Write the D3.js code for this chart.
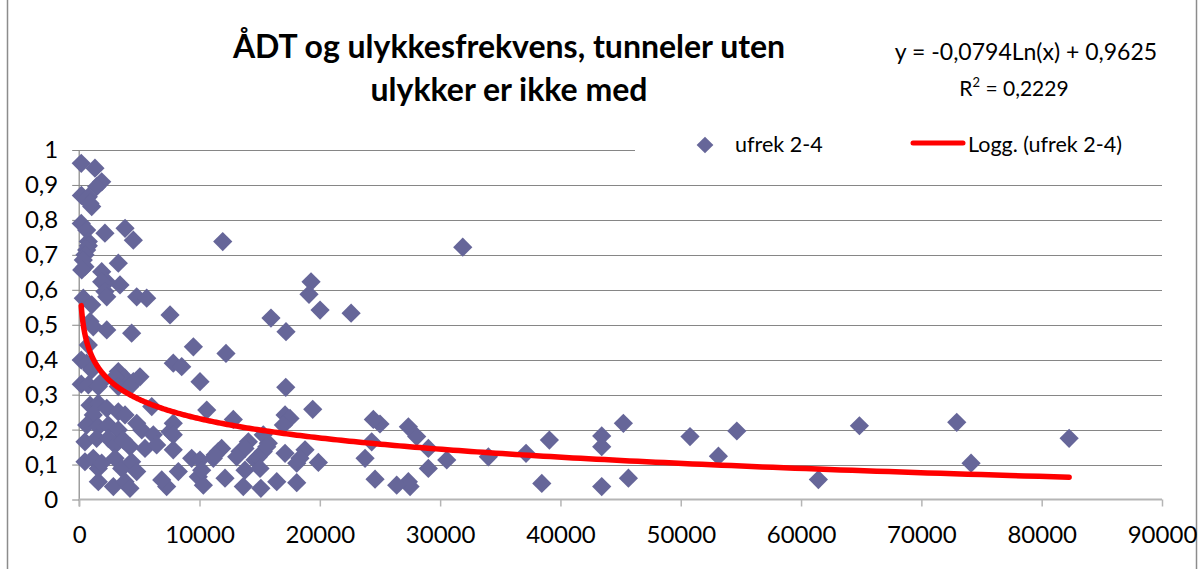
<!DOCTYPE html>
<html><head><meta charset="utf-8">
<script src="https://cdn.jsdelivr.net/npm/d3@7"></script>
<style>body{margin:0;background:#fff}svg{display:block}</style>
</head><body><svg id="c" width="1198" height="569"></svg>
<script>
// ---- data ----
const adt = [82280,74130,72940,64850,61440,54660,53130,50770,45650,45230,43430,43430,43430,39080,38450,37140,34010,31880,30550,29020,29020,28050,27360,27500,27360,26390,25000,24450,24310,23760,24590,22600,
11930,19270,19100,20020,7550,15940,17190,9490,12200,7820,8520,10040,17170,10600,19410,7820,7550,12810,17110,17520,16970,7820,9350,10040,9900,8240,7270,10320,11560,11840,11150,12120,13370,14060,13780,13780,13640,14610,14890,15300,15720,15300,15100,16420,17110,18080,18080,18770,19880,15030,13090,11290,15590,18350,10180,
170,1310,1870,1450,180,760,1040,900,170,620,2140,3810,4500,760,760,620,480,340,480,3250,1870,210,2290,1870,2140,3390,340,1040,2290,4780,5610,
900,1170,2290,4360,760,170,620,1040,3250,3810,2980,5050,4500,170,760,1870,1590,3250,4220,900,1590,2290,1170,3250,3810,6030,620,1590,2420,3250,4780,5200,6160,7820,480,1450,2420,2980,3670,4220,5470,6440,480,1170,1590,1870,2980,3530,4360,4780,1590,2840,3810,4220,6860];
const ufrek = [0.175,0.104,0.221,0.211,0.057,0.196,0.124,0.180,0.061,0.218,0.182,0.151,0.037,0.170,0.046,0.132,0.122,0.722,0.113,0.146,0.089,0.180,0.208,0.037,0.051,0.041,0.216,0.229,0.165,0.118,0.058,0.533,
0.738,0.623,0.587,0.542,0.528,0.519,0.480,0.437,0.418,0.390,0.380,0.337,0.321,0.256,0.258,0.218,0.194,0.229,0.242,0.232,0.213,0.142,0.118,0.113,0.065,0.080,0.037,0.041,0.137,0.146,0.118,0.061,0.137,0.165,0.146,0.084,0.037,0.113,0.122,0.137,0.161,0.185,0.032,0.051,0.132,0.104,0.048,0.142,0.106,0.089,0.122,0.127,0.151,0.118,0.084,
0.962,0.948,0.909,0.895,0.870,0.866,0.838,0.847,0.790,0.771,0.762,0.776,0.742,0.738,0.726,0.714,0.700,0.685,0.666,0.676,0.652,0.657,0.623,0.623,0.595,0.614,0.576,0.557,0.580,0.580,0.576,
0.509,0.494,0.485,0.476,0.442,0.399,0.390,0.371,0.366,0.347,0.351,0.351,0.337,0.330,0.328,0.337,0.323,0.323,0.323,0.270,0.275,0.261,0.242,0.251,0.242,0.266,0.213,0.208,0.213,0.199,0.218,0.199,0.185,0.185,0.165,0.175,0.175,0.156,0.170,0.151,0.146,0.156,0.108,0.118,0.089,0.104,0.118,0.089,0.108,0.080,0.051,0.037,0.051,0.032,0.056];
const xTicks = [0,10000,20000,30000,40000,50000,60000,70000,80000,90000];
const yTicks = [0,0.1,0.2,0.3,0.4,0.5,0.6,0.7,0.8,0.9,1];
const trendA = -0.0794, trendB = 0.9625;   // y = a*ln(x) + b
const rSquared = 0.2229;
const titleLines = ["ÅDT og ulykkesfrekvens, tunneler uten", "ulykker er ikke med"];
const seriesName = "ufrek 2-4";
const trendName = "Logg. (ufrek 2-4)";

// ---- chart ----
const svg = d3.select("#c");
const FONT = "Lato, 'Open Sans', sans-serif";
const x = d3.scaleLinear().domain([0, 90000]).range([79.2, 1162]);
const y = d3.scaleLinear().domain([0, 1]).range([499.5, 150]);
const fmt = d => String(d).replace(".", ",");

svg.append("rect").attr("x",0).attr("y",0).attr("width",1198).attr("height",569).attr("fill","#fff");
svg.append("rect").attr("x",7.5).attr("y",-2).attr("width",1189).attr("height",575)
  .attr("fill","none").attr("stroke","#8c8c8c").attr("stroke-width",1.5);

// gridlines
svg.append("g").selectAll("line").data(yTicks.filter(d => d > 0)).join("line")
  .attr("x1", x(0)).attr("x2", x(90000))
  .attr("y1", d => Math.round(y(d)) + 0.5).attr("y2", d => Math.round(y(d)) + 0.5)
  .attr("stroke", "#868686").attr("stroke-width", 1.2);

// y axis
const yAxis = d3.axisLeft(y).tickValues(yTicks).tickSize(7).tickPadding(14).tickFormat(fmt);
const gy = svg.append("g").attr("transform", `translate(${x(0)},0)`).call(yAxis);
gy.select(".domain").attr("stroke", "#868686").attr("stroke-width", 1.2).attr("d", `M0,${y(1)}V${y(0)+7}`);
gy.selectAll(".tick line").attr("stroke", "#868686");
gy.selectAll("text").attr("font-family", FONT).attr("font-size", 24).attr("fill", "#000");

// x axis
const xAxis = d3.axisBottom(x).tickValues(xTicks).tickSize(7).tickPadding(19).tickFormat(d => String(d));
const gx = svg.append("g").attr("transform", `translate(0,${y(0)})`).call(xAxis);
gx.select(".domain").attr("stroke", "#b5b5b5").attr("stroke-width", 2).attr("d", `M${x(0)},0H${x(90000)}`);
gx.selectAll(".tick line").attr("stroke", "#b5b5b5").attr("stroke-width", 1.5);
gx.selectAll("text").attr("font-family", FONT).attr("font-size", 24).attr("fill", "#000");

// points
const pts = adt.map((v, i) => ({ x: v, y: ufrek[i] }));
const diamond = d3.symbol(d3.symbolSquare, 185);
svg.append("g").selectAll("path").data(pts).join("path")
  .attr("d", diamond)
  .attr("transform", d => `translate(${x(d.x)},${y(d.y)}) rotate(45)`)
  .attr("fill", "#666699");

// trendline
const [xmin, xmax] = d3.extent(adt);
const tx = d3.range(0, 401).map(i => xmin * Math.pow(xmax / xmin, i / 400));
const line = d3.line().x(d => x(d)).y(d => y(trendA * Math.log(d) + trendB));
svg.append("path").datum(tx).attr("d", line).attr("fill", "none")
  .attr("stroke", "#ff0000").attr("stroke-width", 5.5).attr("stroke-linecap", "round");

// legend (white box covers top gridline)
svg.append("rect").attr("x", 635).attr("y", 128).attr("width", 530).attr("height", 32).attr("fill", "#fff");
svg.append("path").attr("d", d3.symbol(d3.symbolSquare, 140))
  .attr("transform", "translate(705,145) rotate(45)").attr("fill", "#666699");
svg.append("text").attr("x", 735).attr("y", 152).text(seriesName)
  .attr("font-family", FONT).attr("font-size", 21.5);
svg.append("line").attr("x1", 913).attr("x2", 963).attr("y1", 143).attr("y2", 143)
  .attr("stroke", "#ff0000").attr("stroke-width", 5).attr("stroke-linecap", "round");
svg.append("text").attr("x", 968).attr("y", 152).text(trendName)
  .attr("font-family", FONT).attr("font-size", 21.5);

// title
svg.append("g").selectAll("text").data(titleLines).join("text")
  .attr("x", 509).attr("y", (d, i) => 58 + i * 43)
  .attr("text-anchor", "middle").attr("font-family", FONT).attr("font-weight", "bold")
  .attr("font-size", 32).text(d => d);

// equation
svg.append("text").attr("x", 1026).attr("y", 60).attr("text-anchor", "middle")
  .attr("font-family", FONT).attr("font-size", 23)
  .text(`y = ${fmt(trendA)}Ln(x) + ${fmt(trendB)}`);
const r2 = svg.append("text").attr("x", 1014).attr("y", 96).attr("text-anchor", "middle")
  .attr("font-family", FONT).attr("font-size", 21);
r2.append("tspan").text("R");
r2.append("tspan").attr("dy", -9).attr("font-size", 13).text("2");
r2.append("tspan").attr("dy", 9).text(" = " + fmt(rSquared));
</script></body></html>
